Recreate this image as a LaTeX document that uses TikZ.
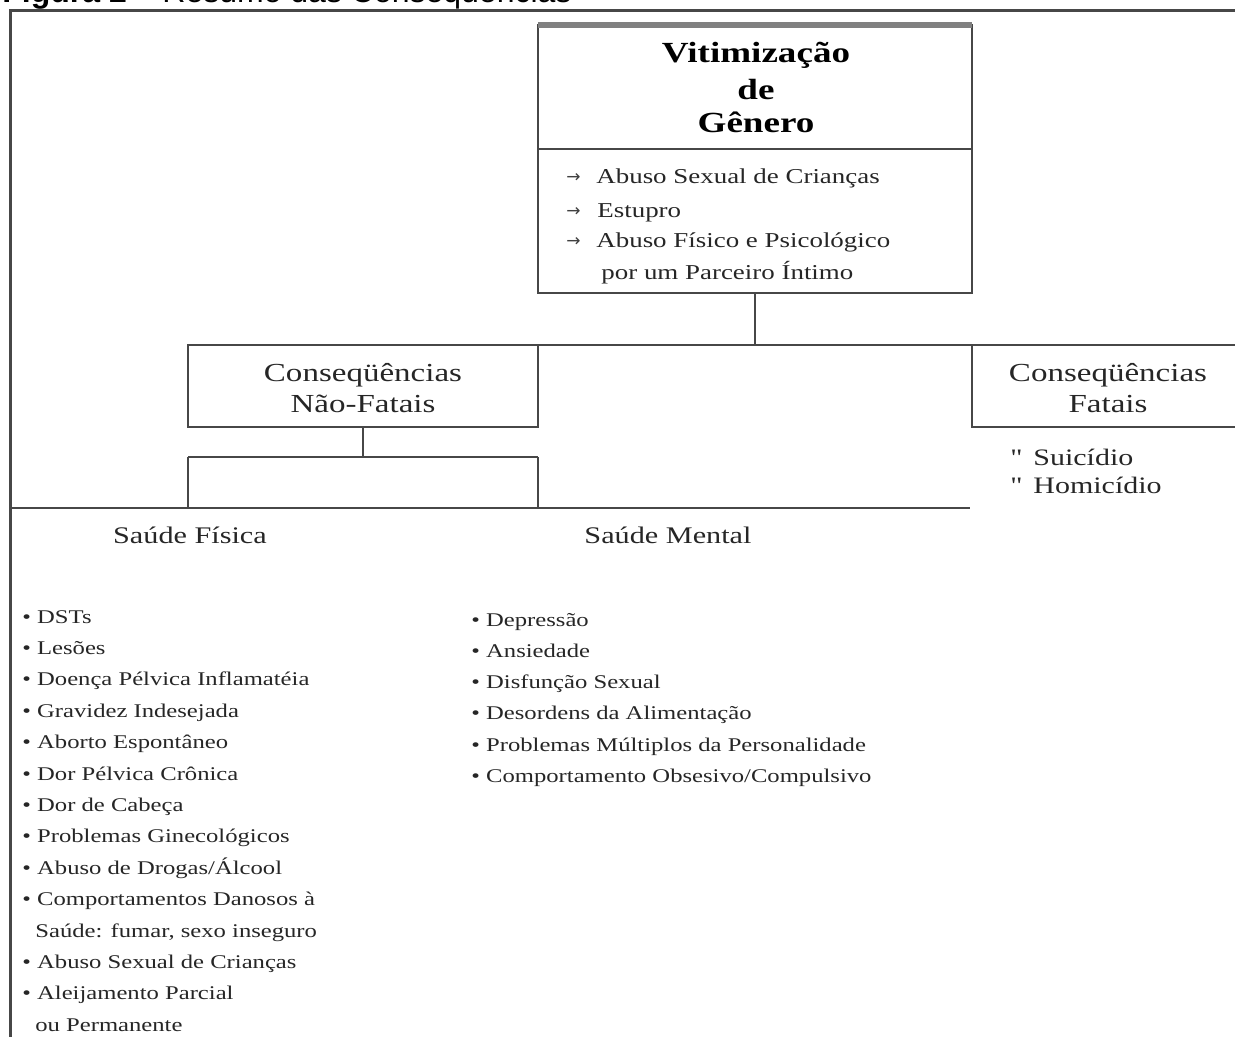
\documentclass[tikz,border=0pt]{standalone}
\usepackage{fontspec}
\setmainfont{Liberation Serif}[FakeStretch=1.27]
\newfontfamily\qfont{Liberation Serif}[FakeStretch=1.27, Ligatures=TeXOff]
\newfontfamily\titlefont{Liberation Sans}
\newfontfamily\arrowfont{DejaVu Sans}
\tikzset{
  ln/.style={draw=black!72, line width=1.2pt},
  boxnode/.style={ln, inner sep=0pt, outer sep=0pt, anchor=north west},
  hdr/.style={font=\bfseries\fontsize{14.6}{17}\selectfont, anchor=base, inner sep=0pt},
  sub/.style={font=\fontsize{13}{15}\selectfont, anchor=base, inner sep=0pt, text=black!85},
  topitem/.style={font=\fontsize{10.6}{12}\selectfont, anchor=base west, inner sep=0pt, text=black!85},
  arr/.style={font=\arrowfont\fontsize{8.5}{9}\selectfont, anchor=base west, inner sep=0pt, text=black!75},
  fitem/.style={font=\fontsize{11.8}{14}\selectfont, anchor=base west, inner sep=0pt, text=black!85},
  sec/.style={font=\fontsize{11.9}{14}\selectfont, anchor=base, inner sep=0pt, text=black!85},
  item/.style={font=\fontsize{9.7}{12}\selectfont, anchor=base west, inner sep=0pt, text=black!85},
}
\begin{document}
\begin{tikzpicture}[x=0.5pt,y=-0.5pt]
\useasboundingbox (0,0) rectangle (1235,1037);
% title (cut at top)
\node[anchor=base west, inner sep=0pt, font=\titlefont\fontsize{16}{19}\selectfont] (title) at (2,3) {\textbf{Figura 2} – Resumo das Conseqüências};
% outer frame
\coordinate (fbl) at (10,1050);
\coordinate (ftl) at (10,11);
\coordinate (ftr) at (1250,11);
\draw[draw=black!72, line width=1.5pt] (fbl) -- (ftl) -- (ftr);
% top box
\node[boxnode, minimum width=217pt, minimum height=62pt] (vith) at (538,25) {};
\node[boxnode, minimum width=217pt, minimum height=72pt] (vitl) at (538,149) {};
\draw[draw=black!50, line width=2.6pt] (vith.north west) -- (vith.north east);
\node[hdr] (h1) at (756,63) {Vitimização};
\node[hdr] (h2) at (756,100) {de};
\node[hdr] (h3) at (756,133) {Gênero};
\node[arr] (a1) at (566,183) {→};
\node[arr] (a2) at (566,217) {→};
\node[arr] (a3) at (566,247) {→};
\node[topitem] (t1) at (596,184) {Abuso Sexual de Crianças};
\node[topitem] (t2) at (597,218) {Estupro};
\node[topitem] (t3) at (596,248) {Abuso Físico e Psicológico};
\node[topitem] (t4) at (601,280) {por um Parceiro Íntimo};
% consequence boxes
\node[boxnode, minimum width=175pt, minimum height=41pt] (nf) at (188,345) {};
\node[anchor=north west, inner sep=0pt, outer sep=0pt, minimum width=135pt, minimum height=41pt] (fat) at (972,345) {};
\node[sub] (nf1) at (363,381) {Conseqüências};
\node[sub] (nf2) at (363,412) {Não-Fatais};
\node[sub] (fa1) at (1108,381) {Conseqüências};
\node[sub] (fa2) at (1108,412) {Fatais};
\draw[ln] (vitl.south) -- (vitl.south |- nf.north);
\draw[ln] (nf.north east) -- (fat.north west) -- (fat.north east);
\draw[ln] (fat.north west) -- (fat.south west) -- (fat.south east);
\node[fitem, font=\qfont\fontsize{11.8}{14}\selectfont] (q1) at (1010,465) {"};
\node[fitem, font=\qfont\fontsize{11.8}{14}\selectfont] (q2) at (1010,493) {"};
\node[fitem] (s1) at (1033,465) {Suicídio};
\node[fitem] (s2) at (1033,493) {Homicídio};
% fork
\coordinate (fork) at (363,457);
\coordinate (baseL) at (10,508);
\coordinate (baseR) at (970,508);
\draw[ln] (nf.south) -- (fork);
\draw[ln] (nf.south west |- fork) -- (nf.south east |- fork);
\draw[ln] (nf.south west |- fork) -- (nf.south west |- baseL);
\draw[ln] (nf.south east |- fork) -- (nf.south east |- baseL);
\draw[ln] (baseL) -- (baseR);
\node[sec] (fis) at (190,543) {Saúde Física};
\node[sec] (men) at (668,543) {Saúde Mental};
% left list
\foreach \t [count=\i from 0] in {• DSTs, • Lesões, • Doença Pélvica Inflamatéia, • Gravidez Indesejada, • Aborto Espontâneo, • Dor Pélvica Crônica, • Dor de Cabeça, • Problemas Ginecológicos, • Abuso de Drogas/Álcool, • Comportamentos Danosos à}
  \node[item] (l\i) at (22,623+31.4*\i) {\t};
\node[item] (l10) at (35,623+31.4*10) {Saúde: fumar, sexo inseguro};
\node[item] (l11) at (22,623+31.4*11) {• Abuso Sexual de Crianças};
\node[item] (l12) at (22,623+31.4*12) {• Aleijamento Parcial};
\node[item] (l13) at (35,623+31.4*13) {ou Permanente};
% right list
\foreach \t [count=\i from 0] in {• Depressão, • Ansiedade, • Disfunção Sexual, • Desordens da Alimentação, • Problemas Múltiplos da Personalidade, • Comportamento Obsesivo/Compulsivo}
  \node[item] (r\i) at (471,626+31.3*\i) {\t};
\end{tikzpicture}
\end{document}
